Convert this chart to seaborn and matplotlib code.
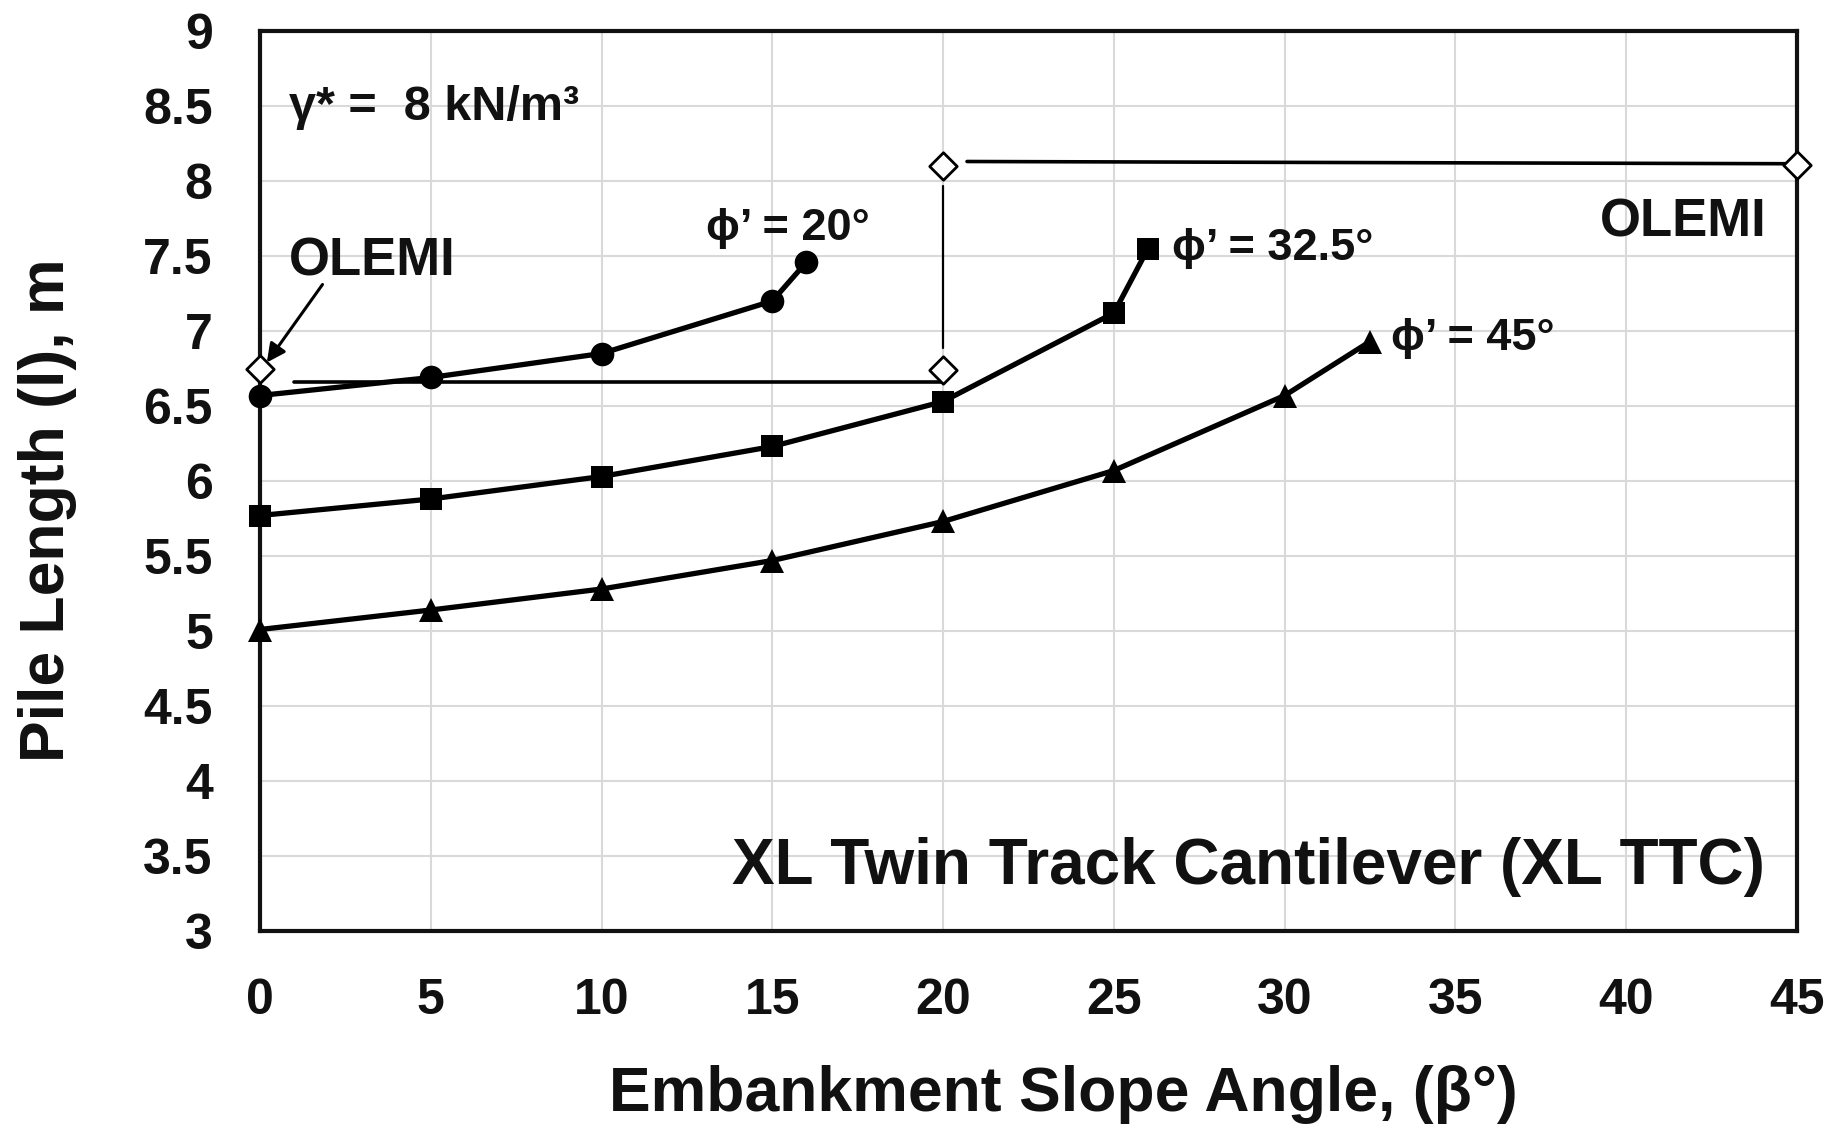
import numpy as np
import pandas as pd
import matplotlib
matplotlib.use("Agg")
import matplotlib.pyplot as plt
import seaborn as sns

# ---------------- data ----------------
beta_phi20 = [0, 5, 10, 15, 16]
len_phi20 = [6.57, 6.69, 6.85, 7.20, 7.46]

beta_phi325 = [0, 5, 10, 15, 20, 25, 26]
len_phi325 = [5.77, 5.88, 6.03, 6.23, 6.53, 7.12, 7.55]

beta_phi45 = [0, 5, 10, 15, 20, 25, 30, 32.5]
len_phi45 = [5.01, 5.14, 5.28, 5.47, 5.73, 6.07, 6.57, 6.93]

olemi_x = [0, 20, 20, 45]
olemi_y = [6.75, 6.74, 8.10, 8.11]

olemi_low_x = [1.0, 20]
olemi_low_y = [6.66, 6.66]
olemi_vert_x = [20, 20]
olemi_vert_y = [6.89, 7.97]
olemi_top_x = [20.7, 45]
olemi_top_y = [8.13, 8.115]

x_ticks = [0, 5, 10, 15, 20, 25, 30, 35, 40, 45]
y_ticks = [3, 3.5, 4, 4.5, 5, 5.5, 6, 6.5, 7, 7.5, 8, 8.5, 9]
y_tick_labels = ["3", "3.5", "4", "4.5", "5", "5.5", "6", "6.5", "7", "7.5", "8", "8.5", "9"]

# ---------------- style ----------------
sns.set_style("white")
FONT = ["Liberation Sans", "DejaVu Sans"]
plt.rcParams["font.family"] = FONT
INK = "#111111"

fig = plt.figure(figsize=(18.36, 11.30), dpi=100)
ax = fig.add_axes([260 / 1836, (1130 - 931) / 1130, 1537 / 1836, 900 / 1130])

ax.set_xlim(0, 45)
ax.set_ylim(3, 9)
ax.set_xticks(x_ticks)
ax.set_yticks(y_ticks)
ax.set_xticklabels([str(v) for v in x_ticks])
ax.set_yticklabels(y_tick_labels)
ax.grid(True, color="#d9d9d9", linewidth=1.5)
ax.set_axisbelow(True)
for s in ax.spines.values():
    s.set_color(INK)
    s.set_linewidth(3)
    s.set_visible(True)
ax.tick_params(axis="both", length=0, pad=34, labelsize=36, labelcolor=INK)
for lab in ax.get_xticklabels() + ax.get_yticklabels():
    lab.set_fontweight("bold")

# ---------------- curves ----------------
curves = [
    (beta_phi20, len_phi20, "o", 17),
    (beta_phi325, len_phi325, "s", 16),
    (beta_phi45, len_phi45, "^", 17),
]
for bx, ly, mk, ms in curves:
    df = pd.DataFrame({"beta": bx, "L": ly})
    sns.lineplot(data=df, x="beta", y="L", ax=ax, color="black", linewidth=3.8,
                 marker=mk, markersize=ms, markeredgecolor="black",
                 markeredgewidth=0, markerfacecolor="black", sort=False,
                 clip_on=False, zorder=5)

# OLEMI lines
ax.plot(olemi_low_x, olemi_low_y, color="black", linewidth=2.6, zorder=4)
ax.plot(olemi_vert_x, olemi_vert_y, color="black", linewidth=1.6, zorder=4)
ax.plot(olemi_top_x, olemi_top_y, color="black", linewidth=2.6, zorder=4)

dfo = pd.DataFrame({"beta": olemi_x, "L": olemi_y})
sns.scatterplot(data=dfo, x="beta", y="L", ax=ax, marker="D", s=14 ** 2,
                facecolor="white", edgecolor="black", linewidth=2,
                clip_on=False, zorder=6)

ax.set_xlabel("Embankment Slope Angle, (β°)", fontsize=45, fontweight="bold", color=INK)
ax.set_ylabel("Pile Length (l), m", fontsize=45, fontweight="bold", color=INK)
ax.xaxis.label.set_va("center")
ax.yaxis.label.set_va("center")
ax.xaxis.set_label_coords(0.523, (931 - 1095) / 900)
ax.yaxis.set_label_coords((48 - 260) / 1537, 0.468)

# ---------------- annotations ----------------
tk = dict(fontweight="bold", color=INK, va="baseline")
ax.text(0.85, 8.407, "γ* =  8 kN/m³", fontsize=35, ha="left", **tk)
ax.text(0.85, 7.373, "OLEMI", fontsize=38, ha="left", **tk)
ax.text(44.12, 7.63, "OLEMI", fontsize=38, ha="right", **tk)
ax.text(13.05, 7.607, "ϕ’ = 20°", fontsize=32.5, ha="left", **tk)
ax.text(26.69, 7.473, "ϕ’ = 32.5°", fontsize=32.5, ha="left", **tk)
ax.text(33.1, 6.873, "ϕ’ = 45°", fontsize=32.5, ha="left", **tk)
ax.text(44.07, 3.313, "XL Twin Track Cantilever (XL TTC)", fontsize=46, ha="right", **tk)

ax.annotate("", xy=(0.2, 6.79), xytext=(1.83, 7.31),
            arrowprops=dict(arrowstyle="-|>", color="black", lw=2.2,
                            mutation_scale=28, shrinkA=0, shrinkB=0),
            zorder=7)

fig.savefig("out.png", dpi=100)
